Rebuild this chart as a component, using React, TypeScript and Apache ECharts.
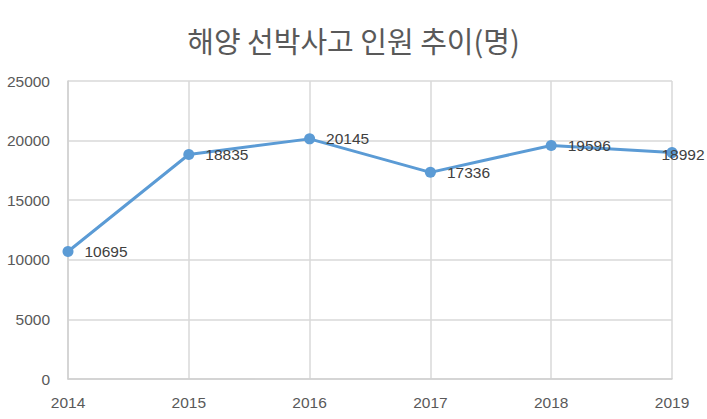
import React, { useEffect, useRef } from 'react';
import * as echarts from 'echarts';

const years = ['2014', '2015', '2016', '2017', '2018', '2019'];
const persons = [10695, 18835, 20145, 17336, 19596, 18992];
const title = '해양 선박사고 인원 추이(명)';

const App: React.FC = () => {
    const chartRef = useRef<HTMLDivElement>(null);

    useEffect(() => {
        if (!chartRef.current) return;
        const chart = echarts.init(chartRef.current, null, { renderer: 'svg' });

        const numFont = 'Liberation Sans, Arial, sans-serif';
        const last = persons.length - 1;

        chart.setOption({
            animation: false,
            backgroundColor: '#ffffff',
            title: {
                text: title,
                left: 'center',
                top: 20,
                textStyle: {
                    fontFamily: 'Noto Sans CJK KR',
                    fontSize: 29,
                    fontWeight: 'normal',
                    color: '#595959'
                }
            },
            grid: { left: 68, right: 35, top: 81, bottom: 40 },
            xAxis: {
                type: 'category',
                data: years,
                boundaryGap: false,
                axisLine: { lineStyle: { color: '#d0d0d0', width: 1.5 } },
                axisTick: { show: false },
                splitLine: { show: true, lineStyle: { color: '#d9d9d9', width: 1.5 } },
                axisLabel: { color: '#595959', fontSize: 15.5, fontFamily: numFont, margin: 15 }
            },
            yAxis: {
                type: 'value',
                min: 0,
                max: 25000,
                interval: 5000,
                axisLine: { show: true, lineStyle: { color: '#d0d0d0', width: 1.5 } },
                axisTick: { show: false },
                splitLine: { lineStyle: { color: '#d9d9d9', width: 1.5 } },
                axisLabel: {
                    color: '#595959',
                    fontSize: 15.5,
                    fontFamily: numFont,
                    margin: 18,
                    formatter: (v: number) => String(v)
                }
            },
            series: [
                {
                    type: 'line',
                    data: persons.map((v, i) =>
                        i === last
                            ? { value: v, label: { position: 'inside', offset: [11, 2] } }
                            : v
                    ),
                    symbol: 'circle',
                    symbolSize: 11,
                    itemStyle: { color: '#5b9bd5' },
                    lineStyle: { color: '#5b9bd5', width: 3 },
                    label: {
                        show: true,
                        position: 'right',
                        distance: 11,
                        color: '#404040',
                        fontSize: 15.5,
                        fontFamily: numFont
                    }
                }
            ]
        });

        return () => chart.dispose();
    }, []);

    return (
        <div
            ref={chartRef}
            style={{ position: 'absolute', left: 0, top: 0, width: 707, height: 419 }}
        />
    );
};

export default App;
